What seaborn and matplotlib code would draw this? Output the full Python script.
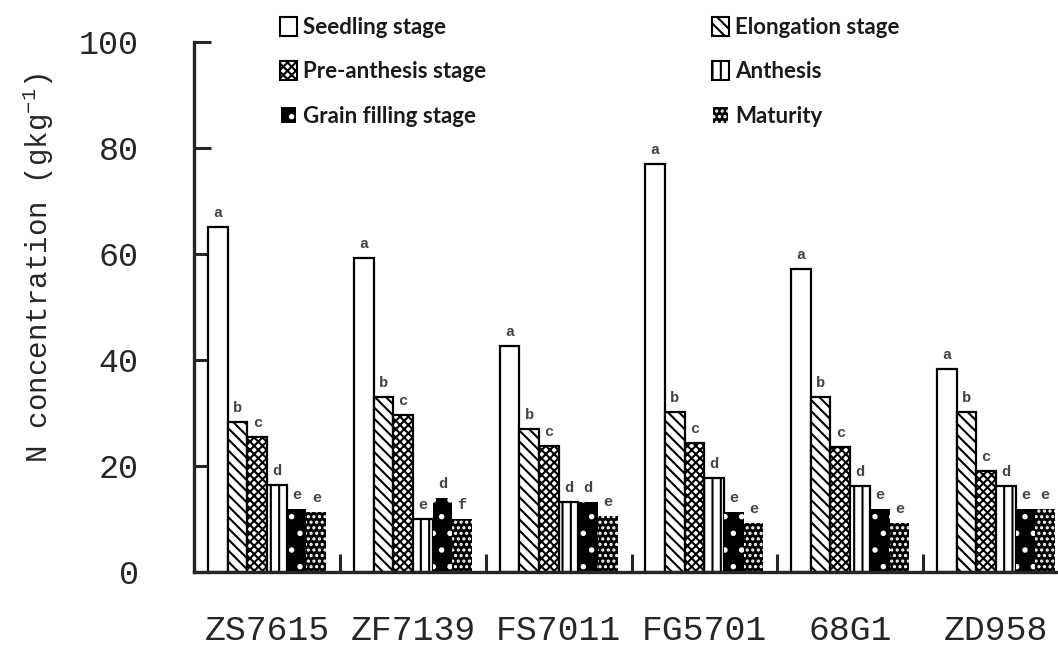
import pandas as pd
import seaborn as sns
import matplotlib.pyplot as plt
from matplotlib.patches import Patch

# values
cultivars = ['ZS7615', 'ZF7139', 'FS7011', 'FG5701', '68G1', 'ZD958']
stages = ['Seedling stage', 'Elongation stage', 'Pre-anthesis stage',
          'Anthesis', 'Grain filling stage', 'Maturity']

seedling = [65.1, 59.2, 42.6, 77.0, 57.2, 38.3]
elongation = [28.3, 33.0, 27.0, 30.2, 33.0, 30.2]
pre_anthesis = [25.5, 29.6, 23.8, 24.3, 23.6, 19.1]
anthesis = [16.4, 10.0, 13.2, 17.7, 16.2, 16.2]
grain_filling = [11.9, 14.0, 13.2, 11.3, 11.9, 11.9]
maturity = [11.3, 10.0, 10.6, 9.2, 9.2, 11.9]

letters = [
    ['a', 'a', 'a', 'a', 'a', 'a'],
    ['b', 'b', 'b', 'b', 'b', 'b'],
    ['c', 'c', 'c', 'c', 'c', 'c'],
    ['d', 'e', 'd', 'd', 'd', 'd'],
    ['e', 'd', 'd', 'e', 'e', 'e'],
    ['e', 'f', 'e', 'e', 'e', 'e'],
]

series = [seedling, elongation, pre_anthesis, anthesis, grain_filling, maturity]
df = pd.DataFrame({
    'cultivar': cultivars * len(stages),
    'stage': [s for s in stages for _ in cultivars],
    'N': [v for vals in series for v in vals],
})

# fill / hatch / hatch colour per stage
styles = {
    'Seedling stage': ('white', '', 'black'),
    'Elongation stage': ('white', '\\\\\\', 'black'),
    'Pre-anthesis stage': ('white', 'xxxx', 'black'),
    'Anthesis': ('white', '||', 'black'),
    'Grain filling stage': ('black', '.', 'white'),
    'Maturity': ('black', '...', 'white'),
}

sns.set_style("ticks")
plt.rcParams['font.family'] = ['Liberation Mono', 'DejaVu Sans Mono']
plt.rcParams['mathtext.default'] = 'regular'
plt.rcParams['hatch.linewidth'] = 1.5

fig = plt.figure(figsize=(10.58, 6.45), dpi=100)
ax = fig.add_axes([0.1836, 0.1132, 0.8266, 0.8217])

sns.barplot(data=df, x='cultivar', y='N', hue='stage', order=cultivars,
            hue_order=stages, palette=['white'] * 6, edgecolor='black',
            linewidth=1.6, width=0.81, errorbar=None, legend=False, ax=ax)

for cont, stage, labs in zip(ax.containers, stages, letters):
    face, hatch, hcol = styles[stage]
    for bar in cont:
        bar.set_facecolor(face)
        bar.set_hatch(hatch)
        if face == 'black':
            bar.set_edgecolor(hcol)
            bar.set_linewidth(0)
    ax.bar_label(cont, labels=labs, padding=5, fontsize=11,
                 fontweight='bold', color='#444444')

ax.set_ylim(0, 100)
ax.set_xlim(-0.5, 5.5)
ax.set_yticks([0, 20, 40, 60, 80, 100])
ax.tick_params(axis='y', direction='in', length=12, width=2.2,
               labelsize=24, pad=40)
ax.set_xticks(range(6), cultivars)
ax.set_xticks([0.5, 1.5, 2.5, 3.5, 4.5, 5.5], minor=True)
ax.tick_params(axis='x', which='major', length=0, labelsize=25, pad=30)
ax.tick_params(axis='x', which='minor', direction='in', length=13, width=2.2)

for side in ['top', 'right']:
    ax.spines[side].set_visible(False)
for side in ['left', 'bottom']:
    ax.spines[side].set_linewidth(2.4)

ax.set_xlabel('')
ax.set_ylabel('N concentration (gkg$^{-1}$)', fontsize=21)
ax.yaxis.set_label_coords(-0.158, 0.574)

handles = [Patch(facecolor=styles[s][0], hatch=styles[s][1],
                 edgecolor='black' if styles[s][0] == 'white' else 'white',
                 linewidth=1.5) for s in stages]

leg_kw = dict(frameon=False, loc='upper left', borderpad=0, borderaxespad=0,
              handlelength=0.75, handleheight=0.9, handletextpad=0.3,
              labelspacing=1.05, labelcolor='#1a1a1a',
              prop={'family': 'Lato', 'weight': 'bold', 'size': 16})
left_idx = [0, 2, 4]
right_idx = [1, 3, 5]
leg1 = fig.legend([handles[i] for i in left_idx], [stages[i] for i in left_idx],
                  bbox_to_anchor=(280 / 1058, 1 - 17 / 645), **leg_kw)
leg2 = fig.legend([handles[i] for i in right_idx], [stages[i] for i in right_idx],
                  bbox_to_anchor=(712 / 1058, 1 - 17 / 645), **leg_kw)

plt.savefig('out.png', dpi=100)
